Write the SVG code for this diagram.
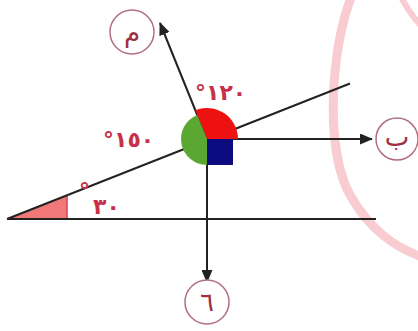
<svg xmlns="http://www.w3.org/2000/svg" width="418" height="331" viewBox="0 0 418 331">
<defs>
<style>
.ln{stroke:#222;stroke-width:2;fill:none}
.lbl{font-family:"DejaVu Sans",sans-serif;font-weight:bold;font-size:22px;fill:#c8304a;letter-spacing:4px}
.pt circle{fill:#fff;stroke:#b07080;stroke-width:1.5}
.pt text{font-family:"DejaVu Sans",sans-serif;font-size:26px;fill:#a03040;text-anchor:middle}
.wm{fill:none;stroke:#f8ccd1;stroke-linecap:round}
</style>
<marker id="ah" viewBox="0 0 13 11" refX="12" refY="5.5" markerWidth="13" markerHeight="11" markerUnits="userSpaceOnUse" orient="auto">
<path d="M0,0 L13,5.5 L0,11 Z" fill="#222"/>
</marker>
</defs>
<rect width="418" height="331" fill="#fff"/>
<g id="watermark">
<path class="wm" stroke-width="9" d="M352,-5 C330,50 325,150 350,195 C370,230 395,248 425,258"/>
<path class="wm" stroke-width="6" d="M400,-5 Q410,15 425,30"/>
</g>
<g id="angle30">
<polygon points="7,219 67,219 67,195.5" fill="#f07878"/>
<line x1="67" y1="219" x2="67" y2="195.5" stroke="#d04050" stroke-width="1.5"/>
</g>
<g id="connectors">
<line class="ln" x1="7" y1="219" x2="376" y2="219"/>
<line class="ln" x1="7" y1="219" x2="350" y2="83.5"/>
<line class="ln" x1="207" y1="139" x2="160" y2="23" marker-end="url(#ah)"/>
<line class="ln" x1="207" y1="139" x2="372" y2="139" marker-end="url(#ah)"/>
<line class="ln" x1="207" y1="139" x2="207" y2="282" marker-end="url(#ah)"/>
</g>
<g id="vertex">
<path d="M207,139 L238,139 A31,31 0 0 0 195.4,110.3 Z" fill="#ee1111"/>
<path d="M207,139 L197.25,114.9 A26,26 0 0 0 207,165 Z" fill="#5aa832"/>
<rect x="207" y="139" width="26" height="26" fill="#0c0c80"/>
</g>
<g id="labels">
<text class="lbl" x="195" y="100">°١٢٠</text>
<text class="lbl" x="103" y="147">°١٥٠</text>
<text class="lbl" x="79" y="214"><tspan dy="-16">°</tspan><tspan dy="16" x="93">٣٠</tspan></text>
</g>
<g id="point-m" class="pt">
<circle cx="132" cy="32" r="22"/>
<text x="132" y="42">م</text>
</g>
<g id="point-b" class="pt">
<circle cx="397" cy="139" r="21"/>
<text x="397" y="146">ب</text>
</g>
<g id="point-j" class="pt">
<circle cx="207" cy="302" r="22"/>
<text x="207" y="311">٦</text>
</g>
</svg>
